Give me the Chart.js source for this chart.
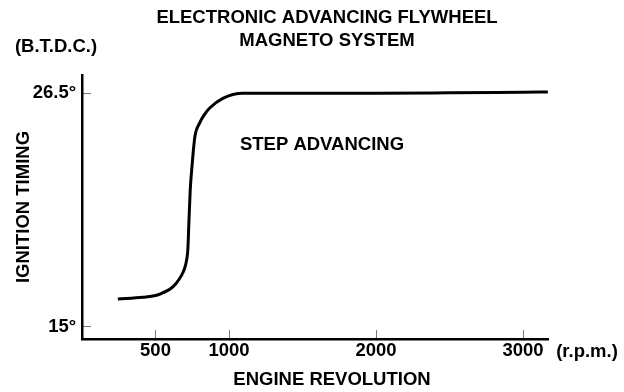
<!DOCTYPE html>
<html>
<head>
<meta charset="utf-8">
<title>Ignition timing</title>
<script src="https://cdn.jsdelivr.net/npm/chart.js@4"></script>
<style>
  html, body { margin: 0; padding: 0; background: #fff; }
  canvas { display: block; }
</style>
</head>
<body>
<canvas id="myChart" width="624" height="392"></canvas>
<script>
// engine speed (r.p.m.) and ignition advance (deg B.T.D.C.) along the curve
const rpm = [244, 414, 500, 550, 600, 641, 675, 697, 712, 720, 727, 736, 750, 765, 772, 799, 830, 867, 958, 1094, 1500, 2000, 2500, 3000, 3169];
const timing = [16.36, 16.45, 16.53, 16.67, 16.85, 17.14, 17.5, 17.85, 18.3, 18.8, 20.1, 21.7, 23.05, 24.2, 24.53, 25.02, 25.42, 25.76, 26.25, 26.5, 26.5, 26.5, 26.52, 26.55, 26.56];
const rpmTicks = [500, 1000, 2000, 3000];
const timingTicks = [15, 26.5];

const fontFamily = "'Liberation Sans', Arial, Helvetica, sans-serif";
const font = { family: fontFamily, size: 18.5, weight: "bold" };

// free-standing text: heading, units and the curve label
const notes = {
  id: "notes",
  afterDraw(chart) {
    const c = chart.ctx;
    c.save();
    c.fillStyle = "#000";
    c.font = "bold 18.5px " + fontFamily;
    c.textAlign = "center";
    c.textBaseline = "middle";
    c.fillText("ELECTRONIC ADVANCING FLYWHEEL", 327, 18);
    c.fillText("MAGNETO SYSTEM", 327, 41);
    c.fillText("(B.T.D.C.)", 56, 47);
    c.fillText("STEP ADVANCING", 322, 145);
    c.fillText("ENGINE REVOLUTION", 332, 380);
    c.fillText("(r.p.m.)", 587, 352);
    c.restore();
  }
};

const ctx = document.getElementById("myChart");

new Chart(ctx, {
  type: "line",
  data: {
    datasets: [
      {
        data: rpm.map((r, i) => ({ x: r, y: timing[i] })),
        borderColor: "#000",
        borderWidth: 3,
        pointRadius: 0,
        fill: false,
        cubicInterpolationMode: "monotone",
      },
    ],
  },
  options: {
    responsive: false,
    animation: false,
    layout: { padding: { top: 75, right: 76, left: 0, bottom: 0 } },
    scales: {
      x: {
        type: "linear",
        min: 0,
        max: 3170,
        afterBuildTicks: (s) => { s.ticks = rpmTicks.map((v) => ({ value: v })); },
        afterFit: (s) => { s.height = 53; },
        ticks: { color: "#000", font, padding: 10.3, callback: (v) => String(v) },
        grid: { drawOnChartArea: false, tickLength: -9, color: "#777", lineWidth: 1 },
        border: { color: "#000", width: 2.5 },
      },
      y: {
        type: "linear",
        min: 14.39,
        max: 27.4,
        afterBuildTicks: (s) => { s.ticks = timingTicks.map((v) => ({ value: v })); },
        afterFit: (s) => { s.width = 82; },
        ticks: { color: "#000", font, padding: 14.8, callback: (v) => v + "°" },
        grid: { drawOnChartArea: false, tickLength: -9, color: "#777", lineWidth: 1 },
        border: { color: "#000", width: 2.5 },
        title: { display: true, text: "IGNITION TIMING", color: "#000", font, padding: { top: 12.6 } },
      },
    },
    plugins: {
      legend: { display: false },
      tooltip: { enabled: false },
    },
  },
  plugins: [notes],
});
</script>
</body>
</html>
